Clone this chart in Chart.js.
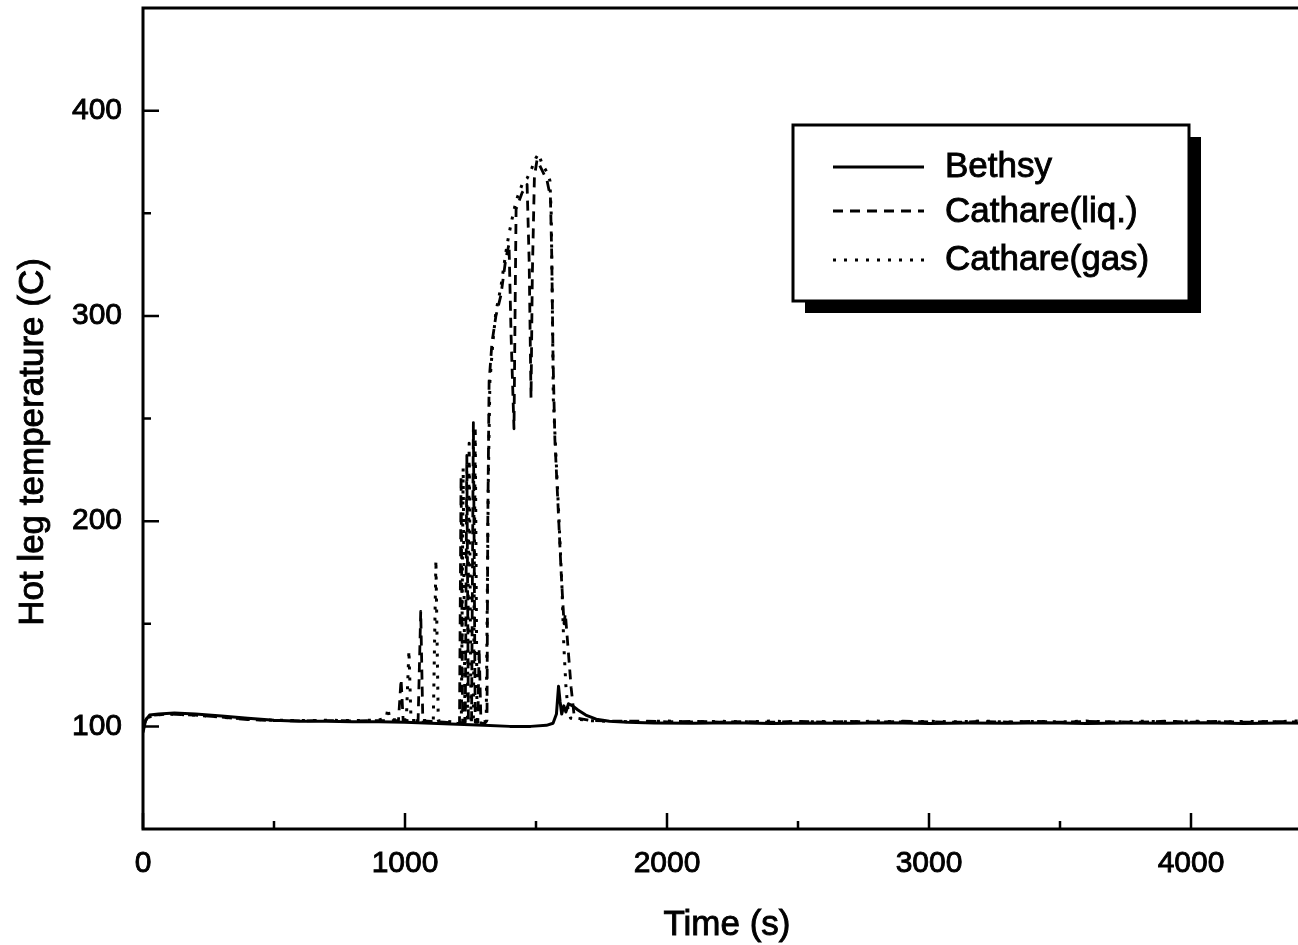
<!DOCTYPE html>
<html>
<head>
<meta charset="utf-8">
<script src="https://cdn.jsdelivr.net/npm/chart.js@4/dist/chart.umd.min.js"></script>
<style>
  html, body { margin: 0; padding: 0; background: #fff; overflow: hidden; width: 1298px; height: 945px; }
  #wrap { position: relative; width: 1340px; height: 945px; }
</style>
</head>
<body>
<div id="wrap"><canvas id="c" width="1340" height="945"></canvas></div>
<script>
// Axis ticks
const xTickValues = [0, 1000, 2000, 3000, 4000];
const xMinorTicks = [500, 1500, 2500, 3500, 4500];
const yTickValues = [100, 200, 300, 400];
const yMinorTicks = [150, 250, 350];

// Bethsy test facility measurement
const bethsyTime = [0, 10, 25, 60, 120, 200, 300, 400, 500, 600, 700, 800, 900, 1000, 1100, 1200, 1300, 1400,
  1480, 1540, 1565, 1578, 1586, 1592, 1598, 1606, 1614, 1624, 1640, 1660, 1690, 1730, 1780, 1850, 1950, 2100,
  2250, 2400, 2550, 2700, 2850, 3000, 3150, 3300, 3450, 3600, 3750, 3900, 4050, 4200, 4350, 4500];
const bethsyTemp = [97, 103, 105.5, 106, 106.5, 106, 105, 104, 103, 102.5, 102.5, 102.3, 102.3, 102, 101.5, 101, 100.5, 100,
  100, 100.5, 101.5, 106, 119.5, 112, 106, 110, 107, 111, 110, 108, 105.5, 103.5, 102.5, 102, 101.7, 101.5,
  101.8, 101.4, 101.7, 101.5, 101.8, 101.4, 101.6, 101.5, 101.8, 101.4, 101.6, 101.5, 101.8, 101.4, 101.6, 101.5];

// CATHARE liquid temperature
const liqTime = [0, 15, 40, 100, 200, 300, 400, 500, 600, 700, 800, 900, 960,
  975, 985, 993, 1050, 1060, 1068, 1100, 1150, 1200,
  1208, 1214, 1220, 1230, 1236, 1242, 1254, 1261, 1268, 1278, 1283, 1290, 1305,
  1313, 1316, 1321, 1332, 1347, 1366, 1385, 1397, 1405, 1416, 1420, 1424, 1447, 1466, 1474, 1481, 1486, 1494,
  1504, 1523, 1542, 1555, 1560, 1565, 1572, 1585, 1596, 1607, 1612, 1620, 1634, 1645, 1660,
  1700, 1800, 1900, 2000, 2100, 2200, 2300, 2400, 2500, 2600, 2700, 2800, 2900, 3000, 3100, 3200, 3300,
  3400, 3500, 3600, 3700, 3800, 3900, 4000, 4100, 4200, 4300, 4400, 4500];
const liqTemp = [100, 104, 105.5, 106, 105.5, 104.5, 103.3, 102.8, 102.7, 102.8, 102.7, 102.8, 102.8,
  102.8, 123, 102.8, 102.8, 156, 102.7, 102.4, 102, 101.5,
  101.5, 222, 102, 102, 232, 102, 102, 248, 102, 102, 138, 101.5, 101.5,
  103, 200, 268, 287, 300, 310, 328, 335, 290, 245, 300, 352, 360, 364, 326, 260, 320, 368,
  376, 371, 366, 358, 330, 280, 240, 205, 175, 150, 155, 142, 119, 106, 104,
  103, 102.5, 102.6, 102.2, 102.5, 102.1, 102.4, 102, 102.5, 102.1, 102.4, 102, 102.5, 102.2, 102, 102.4,
  102.1, 102.5, 102, 102.4, 102.2, 102, 102.5, 102.1, 102.4, 102, 102.4, 102.2];

// CATHARE gas temperature
const gasTime = [0, 15, 40, 100, 200, 300, 400, 500, 600, 700, 800, 900,
  928, 935, 942, 1005, 1015, 1023, 1108, 1118, 1127, 1160, 1200,
  1215, 1222, 1229, 1238, 1245, 1252, 1261, 1268, 1275, 1295, 1310,
  1318, 1324, 1336, 1347, 1366, 1385, 1397, 1410, 1424, 1447, 1466, 1484, 1500, 1510, 1523, 1542, 1553,
  1558, 1562, 1566, 1575, 1588, 1599, 1606, 1614, 1622, 1632,
  1700, 1800, 1900, 2000, 2100, 2200, 2300, 2400, 2500, 2600, 2700, 2800, 2900, 3000, 3100, 3200, 3300,
  3400, 3500, 3600, 3700, 3800, 3900, 4000, 4100, 4200, 4300, 4400, 4500];
const gasTemp = [100, 104, 105.5, 106, 105.5, 104.5, 103.5, 103, 102.8, 103, 102.8, 103.1,
  104, 109, 103.2, 103.2, 137, 102.9, 102.9, 181, 102.8, 102.4, 102,
  102, 226, 102, 102, 238, 102, 102, 246, 102, 102, 102.5,
  220, 268, 288, 302, 314, 331, 340, 348, 356, 364, 367, 372, 377, 379, 374, 370, 366,
  350, 310, 260, 235, 200, 168, 140, 120, 108, 104,
  102.8, 102.4, 102.2, 102.6, 102.1, 102.5, 102.2, 102.6, 102.1, 102.4, 102.2, 102.6, 102.1, 102.5, 102.2, 102.6, 102.1,
  102.4, 102.2, 102.6, 102.1, 102.5, 102.2, 102.6, 102.1, 102.4, 102.2, 102.6, 102.3];

const seriesNames = ['Bethsy', 'Cathare(liq.)', 'Cathare(gas)'];

const toPoints = (ts, vs) => ts.map((t, i) => ({ x: t, y: vs[i] }));

const FONT = "'Liberation Sans', Arial, sans-serif";
const INK = '#000';

// Text with a fine outline so it prints as heavily as the line work
function inkText(ctx, text, x, y) {
  ctx.fillText(text, x, y);
  ctx.strokeText(text, x, y);
}

// Closed frame, inward major/minor tick marks and axis titles
const framePlugin = {
  id: 'frame',
  afterDraw(chart) {
    const { ctx, chartArea: a, scales } = chart;
    ctx.save();
    ctx.strokeStyle = INK;
    ctx.lineWidth = 3;
    ctx.setLineDash([]);
    ctx.strokeRect(a.left, a.top, a.right - a.left, a.bottom - a.top);
    ctx.lineWidth = 2.5;
    ctx.beginPath();
    xTickValues.forEach(v => { const p = scales.x.getPixelForValue(v); ctx.moveTo(p, a.bottom); ctx.lineTo(p, a.bottom - 16); });
    xMinorTicks.forEach(v => { const p = scales.x.getPixelForValue(v); ctx.moveTo(p, a.bottom); ctx.lineTo(p, a.bottom - 8); });
    yTickValues.forEach(v => { const p = scales.y.getPixelForValue(v); ctx.moveTo(a.left, p); ctx.lineTo(a.left + 16, p); });
    yMinorTicks.forEach(v => { const p = scales.y.getPixelForValue(v); ctx.moveTo(a.left, p); ctx.lineTo(a.left + 8, p); });
    ctx.stroke();

    ctx.fillStyle = INK;
    ctx.lineWidth = 0.9;
    ctx.font = '35px ' + FONT;
    ctx.textAlign = 'center';
    ctx.textBaseline = 'alphabetic';
    inkText(ctx, 'Time (s)', 727, 935);
    ctx.translate(43, 442);
    ctx.rotate(-Math.PI / 2);
    inkText(ctx, 'Hot leg temperature (C)', 0, 0);
    ctx.restore();
  }
};

// Boxed legend with a drop shadow
const legendBoxPlugin = {
  id: 'legendBox',
  afterDraw(chart) {
    const { ctx } = chart;
    const bx = 793, by = 125, bw = 396, bh = 176, sh = 12;
    ctx.save();
    ctx.fillStyle = INK;
    ctx.fillRect(bx + sh, by + sh, bw, bh);
    ctx.fillStyle = '#fff';
    ctx.fillRect(bx, by, bw, bh);
    ctx.strokeStyle = INK;
    ctx.lineWidth = 3;
    ctx.strokeRect(bx, by, bw, bh);
    const rows = [167, 211, 260];
    const base = [177, 222, 270];
    chart.data.datasets.forEach((ds, i) => {
      ctx.beginPath();
      ctx.lineWidth = ds.borderWidth;
      ctx.setLineDash(ds.borderDash || []);
      ctx.moveTo(833, rows[i]);
      ctx.lineTo(924, rows[i]);
      ctx.stroke();
      ctx.setLineDash([]);
      ctx.fillStyle = INK;
      ctx.lineWidth = 0.9;
      ctx.font = '35px ' + FONT;
      ctx.textAlign = 'left';
      ctx.textBaseline = 'alphabetic';
      inkText(ctx, ds.label, 945, base[i]);
    });
    ctx.restore();
  }
};

const tickFont = { family: FONT, size: 30 };

new Chart(document.getElementById('c'), {
  type: 'line',
  data: {
    datasets: [
      { label: seriesNames[0], data: toPoints(bethsyTime, bethsyTemp), borderColor: INK, borderWidth: 3, borderDash: [] },
      { label: seriesNames[1], data: toPoints(liqTime, liqTemp), borderColor: INK, borderWidth: 2.8, borderDash: [10, 7] },
      { label: seriesNames[2], data: toPoints(gasTime, gasTemp), borderColor: INK, borderWidth: 3, borderDash: [3, 8] }
    ]
  },
  options: {
    responsive: false,
    animation: false,
    devicePixelRatio: 1,
    elements: { point: { radius: 0 }, line: { tension: 0, fill: false, borderJoinStyle: 'round' } },
    layout: { padding: { top: 8, right: 18, left: 0, bottom: 0 } },
    plugins: { legend: { display: false }, tooltip: { enabled: false } },
    scales: {
      x: {
        type: 'linear', min: 0, max: 4500, position: 'bottom',
        grid: { display: false, drawTicks: false },
        border: { display: false },
        ticks: { color: INK, font: tickFont, padding: 17, maxRotation: 0, autoSkip: false,
                 textStrokeColor: INK, textStrokeWidth: 0.9, callback: v => String(v) },
        afterBuildTicks: s => { s.ticks = xTickValues.map(v => ({ value: v })); },
        afterFit: s => { s.height = 116; s.paddingLeft = 0; s.paddingRight = 0; }
      },
      y: {
        type: 'linear', min: 50, max: 450,
        grid: { display: false, drawTicks: false },
        border: { display: false },
        ticks: { color: INK, font: tickFont, padding: 21, autoSkip: false,
                 textStrokeColor: INK, textStrokeWidth: 0.9, callback: v => String(v) },
        afterBuildTicks: s => { s.ticks = yTickValues.map(v => ({ value: v })); },
        afterFit: s => { s.width = 143; s.paddingTop = 0; s.paddingBottom = 0; }
      }
    }
  },
  plugins: [framePlugin, legendBoxPlugin]
});
</script>
</body>
</html>
